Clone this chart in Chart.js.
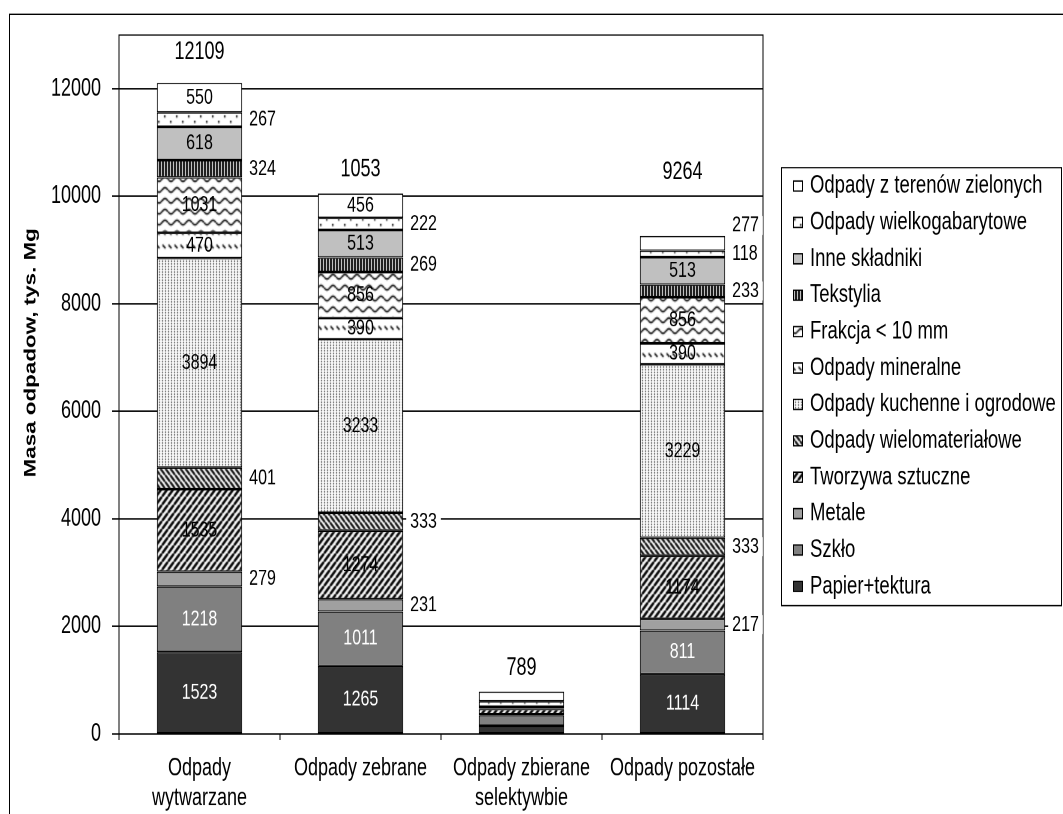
<!DOCTYPE html>
<html>
<head>
<meta charset="utf-8">
<script src="https://cdn.jsdelivr.net/npm/chart.js@4.4.1/dist/chart.umd.min.js"></script>
<style>
  html, body { margin: 0; padding: 0; background: #fff; overflow: hidden; }
  #wrap { width: 1063px; height: 814px; overflow: hidden; }
  /* the reference is a vertically stretched picture, so the canvas is stretched the same way */
  #chart { display: block; transform: scaleY(1.3567); transform-origin: 0 0; }
</style>
</head>
<body>
<div id="wrap"><canvas id="chart" width="1063" height="600"></canvas></div>
<script>
const categories = [['Odpady', 'wytwarzane'], 'Odpady zebrane', ['Odpady zbierane', 'selektywbie'], 'Odpady pozostałe'];

const seriesNames = [
  'Papier+tektura', 'Szkło', 'Metale', 'Tworzywa sztuczne', 'Odpady wielomateriałowe',
  'Odpady kuchenne i ogrodowe', 'Odpady mineralne', 'Frakcja < 10 mm', 'Tekstylia',
  'Inne składniki', 'Odpady wielkogabarytowe', 'Odpady z terenów zielonych'
];

const papier        = [1523, 1265, 151, 1114];
const szklo         = [1218, 1011, 200, 811];
const metale        = [279, 231, 14, 217];
const tworzywa      = [1535, 1274, 100, 1174];
const wielomat      = [401, 333, 0, 333];
const kuchenne      = [3894, 3233, 4, 3229];
const mineralne     = [470, 390, 0, 390];
const frakcja       = [1031, 856, 0, 856];
const tekstylia     = [324, 269, 36, 233];
const inne          = [618, 513, 0, 513];
const wielkogabaryt = [267, 222, 104, 118];
const zielone       = [550, 456, 179, 277];

const totalLabels = ['12109', '1053', '789', '9264'];
const yTicks = [0, 2000, 4000, 6000, 8000, 10000, 12000];

const FONT = "'Liberation Sans', Arial, sans-serif";
const canvas = document.getElementById('chart');
const ctx0 = canvas.getContext('2d');

function pattern(w, h, draw) {
  const c = document.createElement('canvas');
  c.width = w;
  c.height = h;
  const g = c.getContext('2d');
  g.fillStyle = '#fff';
  g.fillRect(0, 0, w, h);
  g.fillStyle = '#000';
  g.strokeStyle = '#000';
  draw(g, w, h);
  return ctx0.createPattern(c, 'repeat');
}

const upDiag = pattern(6, 6, (g, s) => {
  g.lineWidth = 2.2;
  g.beginPath();
  for (let k = -s; k <= s; k += s) { g.moveTo(k, s); g.lineTo(k + s, 0); }
  g.stroke();
});
const downDiag = pattern(5, 5, (g, s) => {
  g.lineWidth = 1.8;
  g.beginPath();
  for (let k = -s; k <= s; k += s) { g.moveTo(k, 0); g.lineTo(k + s, s); }
  g.stroke();
});
const dotGrid = pattern(3, 2, (g) => {
  g.fillStyle = '#222';
  g.fillRect(0, 0, 1, 1);
});
const dashes = pattern(6, 10, (g) => {
  g.lineWidth = 1.3;
  g.beginPath();
  g.moveTo(0.5, 0.5);
  g.lineTo(3.5, 3);
  g.stroke();
});
const waves = pattern(12, 8, (g, w) => {
  g.lineWidth = 1.2;
  g.beginPath();
  for (let x = 0; x <= w; x += 0.5) {
    const y = 4 + 1.6 * Math.sin(x / w * Math.PI * 2);
    if (x === 0) g.moveTo(x, y); else g.lineTo(x, y);
  }
  g.stroke();
});
const vStripes = pattern(3, 1, (g) => {
  g.fillRect(0, 0, 2, 1);
});
const sparseDots = pattern(12, 8, (g) => {
  g.fillRect(2, 1, 1.5, 1.5);
  g.fillRect(8, 5, 1.5, 1.5);
});

const seriesData = [papier, szklo, metale, tworzywa, wielomat, kuchenne, mineralne, frakcja, tekstylia, inne, wielkogabaryt, zielone];
const fills = ['#333333', '#808080', '#a0a0a0', upDiag, downDiag, dotGrid, dashes, waves, vStripes, '#c0c0c0', sparseDots, '#ffffff'];

const datasets = seriesNames.map((name, i) => ({
  label: name,
  data: seriesData[i],
  backgroundColor: fills[i],
  borderColor: '#000',
  borderWidth: 1,
  borderSkipped: false,
  barPercentage: 0.53,
  categoryPercentage: 1.0
}));

// labels inside the segment for these series, white text on the dark ones
const insideSeries = [0, 1, 3, 5, 6, 7, 9, 11];
const whiteText = [0, 1];
const totalLift = [22.5, 17.4, 17.4, 46.7];

const extras = {
  id: 'extras',
  beforeDatasetsDraw(chart) {
    const {ctx, chartArea: a} = chart;
    ctx.save();
    ctx.strokeStyle = '#000';
    ctx.lineWidth = 1;
    ctx.strokeRect(a.left, a.top, a.right - a.left, a.bottom - a.top);
    ctx.restore();
  },
  afterDatasetsDraw(chart) {
    const ctx = chart.ctx;
    const yScale = chart.scales.y;
    ctx.save();
    ctx.textBaseline = 'middle';
    for (let j = 0; j < categories.length; j++) {
      const outside = [];
      let total = 0;
      let barX = 0;
      chart.data.datasets.forEach((ds, i) => {
        const el = chart.getDatasetMeta(i).data[j];
        const val = ds.data[j];
        total += val;
        barX = el.x;
        if (j === 2 || !val) return;
        const h = el.base - el.y;
        const cy = (el.y + el.base) / 2;
        ctx.font = '16px ' + FONT;
        if (insideSeries.includes(i) && h > 13) {
          ctx.fillStyle = whiteText.includes(i) ? '#fff' : '#000';
          ctx.textAlign = 'center';
          ctx.fillText(String(val), el.x, cy);
        } else {
          outside.push({text: String(val), x: el.x + el.width / 2 + 7, y: cy});
        }
      });
      // keep side labels from running into each other
      for (let k = 1; k < outside.length; k++) {
        if (outside[k - 1].y - outside[k].y < 21) outside[k].y = outside[k - 1].y - 21;
      }
      ctx.font = '16px ' + FONT;
      ctx.textAlign = 'left';
      outside.forEach(l => {
        const w = ctx.measureText(l.text).width;
        ctx.fillStyle = '#fff';
        ctx.fillRect(l.x - 4, l.y - 7, w + 8, 14);
        ctx.fillStyle = '#000';
        ctx.fillText(l.text, l.x, l.y);
      });
      ctx.font = '18px ' + FONT;
      ctx.textAlign = 'center';
      ctx.fillStyle = '#000';
      ctx.fillText(totalLabels[j], barX, yScale.getPixelForValue(total) - totalLift[j]);
    }
    ctx.restore();
  },
  afterDraw(chart) {
    const ctx = chart.ctx;
    const ds = chart.data.datasets;
    ctx.save();
    ctx.strokeStyle = '#000';
    ctx.lineWidth = 1;
    // outer frame
    ctx.strokeRect(9.5, 10.5, 1100, 700);

    // axis title
    ctx.save();
    ctx.translate(31, 260);
    ctx.rotate(-Math.PI / 2);
    ctx.font = 'bold 16.5px ' + FONT;
    ctx.fillStyle = '#000';
    ctx.textAlign = 'center';
    ctx.textBaseline = 'middle';
    ctx.fillText('Masa odpadow, tys. Mg', 0, 0);
    ctx.restore();

    // legend, top entry is the last series
    const lx = 781, ly = 123.1, lw = 280, lh = 322.8;
    const rowH = 26.83;
    ctx.fillStyle = '#fff';
    ctx.fillRect(lx, ly, lw, lh);
    ctx.strokeRect(lx + 0.5, ly + 0.5, lw, lh);
    ctx.font = '18.5px ' + FONT;
    ctx.textAlign = 'left';
    ctx.textBaseline = 'middle';
    for (let r = 0; r < ds.length; r++) {
      const d = ds[ds.length - 1 - r];
      const cy = ly + 14 + r * rowH;
      ctx.fillStyle = d.backgroundColor;
      ctx.fillRect(793, cy - 3.7, 10, 7.4);
      ctx.strokeRect(793.5, cy - 3.7, 9, 7.4);
      ctx.fillStyle = '#000';
      ctx.fillText(d.label, 810, cy);
    }
    ctx.restore();
  }
};

new Chart(canvas, {
  type: 'bar',
  data: { labels: categories, datasets: datasets },
  options: {
    responsive: false,
    devicePixelRatio: 2,
    animation: false,
    layout: { padding: { top: 25.8, right: 300, left: 0, bottom: 0 } },
    plugins: { legend: { display: false }, tooltip: { enabled: false } },
    scales: {
      x: {
        stacked: true,
        offset: true,
        grid: { offset: true, drawOnChartArea: false, drawTicks: true, tickLength: 4.5, color: '#000' },
        border: { color: '#000', width: 1 },
        ticks: { color: '#000', font: { size: 18, family: FONT, lineHeight: 22 / 18 }, padding: 10, maxRotation: 0, autoSkip: false },
        afterFit(s) { s.height = 59; }
      },
      y: {
        stacked: true,
        min: 0,
        max: 13000,
        afterBuildTicks(s) { s.ticks = yTicks.map(v => ({ value: v })); },
        grid: { color: '#000', lineWidth: 1, drawTicks: true, tickLength: 7 },
        border: { color: '#000', width: 1 },
        ticks: { color: '#000', font: { size: 18, family: FONT }, padding: 11, callback: v => String(v) },
        afterFit(s) { s.width = 119; }
      }
    }
  },
  plugins: [extras]
});
</script>
</body>
</html>
